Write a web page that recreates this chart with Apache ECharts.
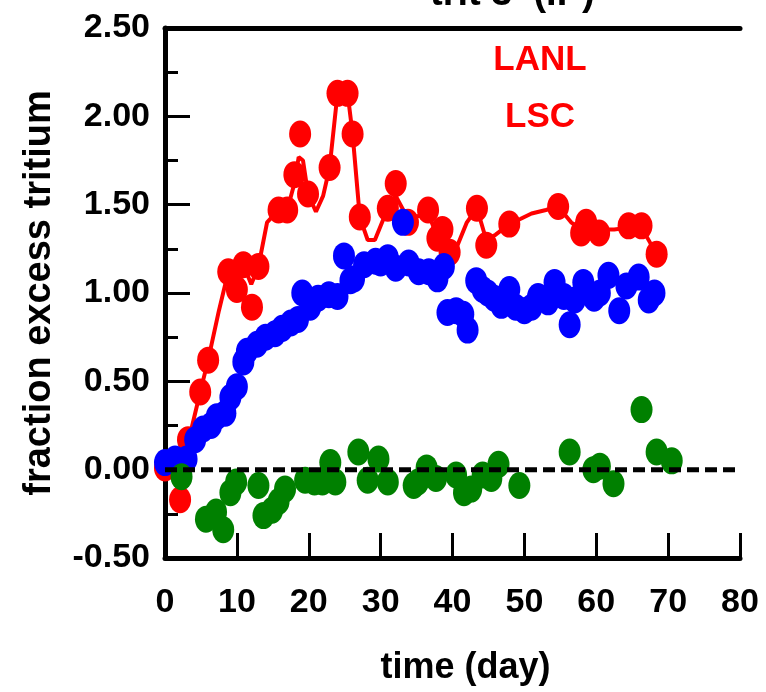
<!DOCTYPE html>
<html>
<head>
<meta charset="utf-8">
<script src="https://cdn.jsdelivr.net/npm/echarts@6/dist/echarts.min.js"></script>
<style>
html,body{margin:0;padding:0;background:#fff;}
#chart{width:766px;height:692px;}
</style>
</head>
<body>
<div id="chart"></div>
<script>
// ---- data (day, fraction excess tritium) ----
const xTicks = [0, 10, 20, 30, 40, 50, 60, 70, 80];
const yTicks = [-0.5, 0, 0.5, 1.0, 1.5, 2.0, 2.5];

const lanlLine = [
  [0, 0.0], [2, 0.0], [3.2, 0.15], [4.9, 0.44], [6.0, 0.62], [7.5, 0.9], [8.8, 1.12],
  [10.0, 1.05], [10.9, 1.16], [12.0, 1.05], [13.0, 1.15], [14.2, 1.40], [15.8, 1.47],
  [17.0, 1.47], [18.0, 1.62], [18.6, 1.77], [19.2, 1.75], [19.9, 1.56], [21.0, 1.46],
  [22.0, 1.55], [22.9, 1.71], [24.0, 2.13], [25.4, 2.13], [26.1, 1.90], [27.1, 1.43],
  [28.2, 1.30], [29.2, 1.30], [31.0, 1.48], [32.1, 1.55], [33.8, 1.42], [36.6, 1.45],
  [37.9, 1.32], [39.6, 1.23], [40.5, 1.25], [42.0, 1.40], [43.4, 1.48], [44.7, 1.30],
  [46.0, 1.33], [47.9, 1.39], [49.5, 1.42], [51.0, 1.45], [53.0, 1.47], [54.7, 1.49],
  [56.5, 1.40], [57.9, 1.36], [60.4, 1.36], [62.5, 1.36], [64.5, 1.37], [66.3, 1.37],
  [68.4, 1.22]
];

const lanlPoints = [
  [0, 0.01], [2.1, -0.17], [3.2, 0.17], [4.9, 0.44], [6.0, 0.62], [8.8, 1.12], [10.0, 1.02],
  [10.9, 1.16], [12.1, 0.92], [13.0, 1.15], [15.8, 1.47], [17.0, 1.47], [18.0, 1.67],
  [18.8, 1.90], [19.9, 1.56], [22.9, 1.71], [24.0, 2.13], [25.4, 2.13], [26.1, 1.90],
  [27.1, 1.43], [31.0, 1.48], [32.1, 1.62], [33.8, 1.40], [36.6, 1.47], [37.9, 1.31],
  [38.6, 1.36], [39.6, 1.23], [43.4, 1.48], [44.7, 1.27], [47.9, 1.39], [54.7, 1.49],
  [57.9, 1.34], [58.6, 1.40], [60.4, 1.34], [64.5, 1.38], [66.3, 1.38], [68.4, 1.22]
];

const lscPoints = [
  [0, 0.04], [1.4, 0.06], [3.0, 0.06], [4.2, 0.17], [5.3, 0.23], [6.4, 0.25], [7.2, 0.30],
  [8.4, 0.32], [9.1, 0.41], [10.0, 0.47], [10.9, 0.61], [11.4, 0.67], [12.8, 0.71],
  [14.0, 0.75], [15.3, 0.77], [16.3, 0.80], [17.5, 0.83], [18.5, 0.85], [19.1, 1.00],
  [20.2, 0.92], [21.3, 0.97], [22.8, 0.99], [24.0, 0.98], [24.9, 1.21], [25.8, 1.07],
  [26.3, 1.08], [27.7, 1.16], [29.3, 1.18], [30.0, 1.17], [31.0, 1.20], [32.1, 1.14],
  [33.1, 1.40], [33.9, 1.17], [35.3, 1.12], [36.7, 1.12], [37.9, 1.08], [38.8, 1.15],
  [39.3, 0.89], [40.5, 0.90], [41.5, 0.88], [42.1, 0.79], [43.3, 1.07], [44.2, 1.02],
  [44.9, 1.00], [45.8, 0.97], [46.8, 0.93], [47.9, 1.02], [48.8, 0.92], [50.0, 0.90],
  [51.0, 0.92], [51.9, 0.98], [53.3, 0.95], [54.2, 1.06], [55.5, 0.98], [56.3, 0.82],
  [57.0, 0.96], [58.2, 1.06], [59.7, 0.97], [60.5, 1.00], [61.7, 1.10], [63.2, 0.90],
  [64.2, 1.04], [65.9, 1.09], [67.3, 0.96], [68.1, 1.00]
];

const diffPoints = [
  [2.3, -0.04], [5.7, -0.28], [7.1, -0.24], [8.1, -0.34], [9.1, -0.13], [9.9, -0.07],
  [13.0, -0.09], [13.7, -0.26], [14.9, -0.23], [15.8, -0.18], [16.7, -0.11], [19.5, -0.06],
  [20.8, -0.07], [21.9, -0.07], [23.0, 0.04], [23.7, -0.07], [26.9, 0.10], [28.2, -0.06],
  [29.7, 0.06], [31.0, -0.07], [34.6, -0.09], [35.2, -0.07], [36.4, 0.01], [37.7, -0.05],
  [40.5, -0.03], [41.6, -0.13], [42.6, -0.11], [44.2, -0.03], [45.4, -0.05], [46.4, 0.03],
  [49.3, -0.09], [56.3, 0.10], [59.6, 0.00], [60.5, 0.02], [62.4, -0.08], [66.3, 0.34],
  [68.4, 0.10], [70.5, 0.05]
];

const zeroLine = [[0, 0], [80, 0]];

// ---- chart ----
const FONT = '"Liberation Sans", Arial, sans-serif';
const ELLIPSE = 'path://M50,0A50,50 0 1,1 50,100A50,50 0 1,1 50,0Z';
const MS = [22, 27];

const chart = echarts.init(document.getElementById('chart'), null, {renderer: 'canvas'});
chart.setOption({
  animation: false,
  backgroundColor: '#ffffff',
  grid: {left: 165, right: 26, top: 28, bottom: 134, containLabel: false},
  xAxis: [{
    type: 'value', min: xTicks[0], max: xTicks[xTicks.length - 1], interval: 10,
    name: 'time (day)', nameLocation: 'middle', nameGap: 92,
    nameTextStyle: {fontFamily: FONT, fontWeight: 'bold', fontSize: 36, color: '#000', padding: [0, 0, 0, 26]},
    axisLine: {show: true, onZero: false, lineStyle: {color: '#000', width: 5}},
    axisTick: {show: true, inside: true, length: 25, lineStyle: {color: '#000', width: 3}},
    axisLabel: {fontFamily: FONT, fontWeight: 'bold', fontSize: 34, color: '#000', margin: 28},
    splitLine: {show: false}
  }, {
    type: 'value', position: 'top', min: 0, max: 80,
    axisLine: {show: true, onZero: false, lineStyle: {color: '#000', width: 5}},
    axisTick: {show: false}, axisLabel: {show: false}, splitLine: {show: false}
  }],
  yAxis: {
    type: 'value', min: yTicks[0], max: yTicks[yTicks.length - 1], interval: 0.5,
    name: 'fraction excess tritium', nameLocation: 'middle', nameGap: 106, nameRotate: 90,
    nameTextStyle: {fontFamily: FONT, fontWeight: 'bold', fontSize: 38, color: '#000'},
    axisLine: {show: true, onZero: false, lineStyle: {color: '#000', width: 5}},
    axisTick: {show: true, inside: true, length: 25, lineStyle: {color: '#000', width: 3}},
    minorTick: {show: true, splitNumber: 2, length: 13, lineStyle: {color: '#000', width: 3}},
    axisLabel: {fontFamily: FONT, fontWeight: 'bold', fontSize: 34, color: '#000', margin: 15,
      formatter: v => v.toFixed(2)},
    splitLine: {show: false}
  },
  graphic: [
    {type: 'text', left: 430, top: -24, style: {text: 'trit 3  (IP)', x: 0, y: 0, font: 'bold 38px ' + FONT, fill: '#000'}},
    {type: 'text', style: {text: 'LANL', x: 540, y: 60, font: 'bold 35px ' + FONT, fill: '#ff0000', align: 'center', verticalAlign: 'middle'}},
    {type: 'text', style: {text: 'LSC', x: 540, y: 117, font: 'bold 35px ' + FONT, fill: '#ff0000', align: 'center', verticalAlign: 'middle'}}
  ],
  series: [
    {name: 'LANL line', type: 'line', data: lanlLine, showSymbol: false, symbol: 'none',
      lineStyle: {color: '#ff0000', width: 4}, z: 2},
    {name: 'LANL', type: 'scatter', data: lanlPoints, symbol: ELLIPSE, symbolSize: MS,
      itemStyle: {color: '#ff0000', opacity: 1}, z: 3},
    {name: 'LSC', type: 'scatter', data: lscPoints, symbol: ELLIPSE, symbolSize: MS,
      itemStyle: {color: '#0000ff', opacity: 1}, z: 4},
    {name: 'difference', type: 'scatter', data: diffPoints, symbol: ELLIPSE, symbolSize: MS,
      itemStyle: {color: '#008000', opacity: 1}, z: 5},
    {name: 'zero', type: 'line', data: zeroLine, symbol: 'none',
      lineStyle: {color: '#000', width: 5, type: [12, 6]}, z: 6}
  ]
});
</script>
</body>
</html>
